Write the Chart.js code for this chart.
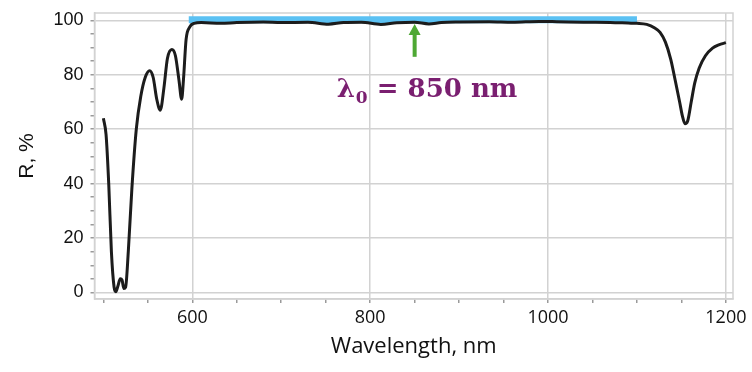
<!DOCTYPE html>
<html>
<head>
<meta charset="utf-8">
<script src="https://cdn.jsdelivr.net/npm/chart.js@4.4.1/dist/chart.umd.min.js"></script>
<style>
  html, body { margin: 0; padding: 0; background: #fff; }
</style>
</head>
<body>
<canvas id="chart" width="752" height="372"></canvas>
<script>
// reflectance spectrum
const wavelength = [
  500, 503, 506, 509, 512, 514, 516, 519, 521, 523, 525, 528, 532, 537, 542, 547,
  552, 556, 560, 564, 568, 572, 577, 581, 585, 588, 590, 593, 597, 602, 610, 632,
  650, 680, 700, 730, 753, 770, 790, 812, 830, 850, 866, 880, 900, 934, 960, 990,
  1010, 1040, 1070, 1090, 1100, 1111, 1120, 1126, 1132, 1138, 1143, 1148, 1151, 1154,
  1157, 1161, 1165, 1170, 1177, 1185, 1192, 1200
];
const reflectance = [
  64, 58, 40, 15, 2, 0.3, 2, 5, 4.5, 1.5, 2, 15, 38, 60, 72, 79,
  81.5, 79, 71, 67, 75, 86, 89.3, 87, 78, 71, 78, 93, 97.5, 98.9, 99.2, 98.9,
  99.2, 99.4, 99.2, 99.3, 98.6, 99.2, 99.3, 98.5, 99.1, 99.3, 98.7, 99.2, 99.4, 99.5, 99.3, 99.6,
  99.5, 99.3, 99.2, 99.0, 98.9, 98.5, 97.2, 95.6, 92, 85.7, 78, 70, 65, 62,
  63, 70, 77, 82.5, 87, 89.8, 91, 91.8
];

// high-reflection band (blue bar)
const bandWavelength = [596, 1100];
const bandReflectance = [100.2, 100.2];

const xTicks = [500, 550, 600, 650, 700, 750, 800, 850, 900, 950, 1000, 1050, 1100, 1150, 1200];
const yTicks = [0, 5, 10, 15, 20, 25, 30, 35, 40, 45, 50, 55, 60, 65, 70, 75, 80, 85, 90, 95, 100];

const centerWavelength = 850;

const toPoints = (xs, ys) => xs.map((x, i) => ({ x: x, y: ys[i] }));

// keep the plot box where the picture has it
const noEdgePadding = (scale) => {
  scale.paddingTop = 0;
  scale.paddingBottom = 0;
  scale.paddingLeft = 0;
  scale.paddingRight = 0;
};

const extras = {
  id: "extras",
  beforeDatasetsDraw(chart) {
    const { ctx, chartArea } = chart;
    ctx.save();
    ctx.strokeStyle = "#d2d2d2";
    ctx.lineWidth = 1.5;
    ctx.strokeRect(chartArea.left, chartArea.top, chartArea.right - chartArea.left, chartArea.bottom - chartArea.top);
    ctx.restore();
  },
  afterDatasetsDraw(chart) {
    const { ctx, scales } = chart;
    const x = scales.x.getPixelForValue(centerWavelength);
    const tip = scales.y.getPixelForValue(98.7);
    const base = scales.y.getPixelForValue(86.6);
    ctx.save();
    // green arrow
    ctx.fillStyle = "#4ea834";
    ctx.fillRect(x - 2, tip + 10, 4, base - tip - 10);
    ctx.beginPath();
    ctx.moveTo(x, tip);
    ctx.lineTo(x - 6, tip + 11);
    ctx.lineTo(x + 6, tip + 11);
    ctx.closePath();
    ctx.fill();

    // label
    const baseline = scales.y.getPixelForValue(72);
    let tx = x - 78;
    ctx.fillStyle = "#7a1f70";
    ctx.textBaseline = "alphabetic";
    ctx.textAlign = "left";
    ctx.font = 'bold 26px "DejaVu Serif"';
    ctx.fillText("λ", tx, baseline);
    tx += ctx.measureText("λ").width + 1;
    ctx.font = 'bold 17px "DejaVu Serif"';
    ctx.fillText("0", tx, baseline + 6);
    tx += ctx.measureText("0").width;
    ctx.font = 'bold 26px "DejaVu Serif"';
    ctx.fillText(" = 850 nm", tx, baseline);
    ctx.restore();
  }
};

new Chart(document.getElementById("chart"), {
  type: "line",
  data: {
    datasets: [
      {
        label: "R",
        data: toPoints(wavelength, reflectance),
        borderColor: "#1c1c1c",
        borderWidth: 3,
        pointRadius: 0,
        fill: false,
        cubicInterpolationMode: "monotone",
        order: 1,
      },
      {
        label: "band",
        data: toPoints(bandWavelength, bandReflectance),
        borderColor: "#5bc1f3",
        borderWidth: 7,
        pointRadius: 0,
        fill: false,
        order: 2,
      },
    ],
  },
  options: {
    responsive: false,
    animation: false,
    layout: { padding: { top: 13, right: 19, left: 0, bottom: 0 } },
    plugins: {
      legend: { display: false },
      tooltip: { enabled: false },
    },
    scales: {
      x: {
        type: "linear",
        min: 490,
        max: 1208,
        afterBuildTicks: (scale) => {
          scale.ticks = xTicks.map((v) => ({ value: v }));
        },
        afterFit: (scale) => {
          scale.height = 73;
          noEdgePadding(scale);
        },
        ticks: {
          autoSkip: false,
          maxRotation: 0,
          padding: 4,
          color: "#111",
          font: { family: "Open Sans", size: 18 },
          callback: (value) => (value >= 600 && value % 200 === 0 ? value : ""),
        },
        grid: {
          color: (c) => (c.tick && c.tick.value >= 600 && c.tick.value % 200 === 0 ? "#d2d2d2" : "transparent"),
          tickColor: "#9a9a9a",
          tickLength: 4,
          lineWidth: 1.5,
        },
        border: { display: true, color: "#d2d2d2", width: 1.5 },
        title: {
          display: true,
          text: "Wavelength, nm",
          color: "#111",
          font: { family: "Open Sans", size: 22 },
          padding: { top: 0, bottom: 12 },
        },
      },
      y: {
        type: "linear",
        min: -2.4,
        max: 102.7,
        afterBuildTicks: (scale) => {
          scale.ticks = yTicks.map((v) => ({ value: v }));
        },
        afterFit: (scale) => {
          scale.width = 94.5;
          noEdgePadding(scale);
        },
        ticks: {
          autoSkip: false,
          padding: 7,
          color: "#111",
          font: { family: "Liberation Sans", size: 18 },
          callback: (value) => (value % 20 === 0 ? value : ""),
        },
        grid: {
          color: (c) => (c.tick && c.tick.value % 20 === 0 ? "#d2d2d2" : "transparent"),
          tickColor: "#9a9a9a",
          tickLength: 4,
          lineWidth: 1.5,
        },
        border: { display: true, color: "#d2d2d2", width: 1.5 },
        title: {
          display: true,
          text: "R, %",
          color: "#111",
          font: { family: "Liberation Sans", size: 21 },
          padding: { top: 15, bottom: 0 },
        },
      },
    },
  },
  plugins: [extras],
});
</script>
</body>
</html>
